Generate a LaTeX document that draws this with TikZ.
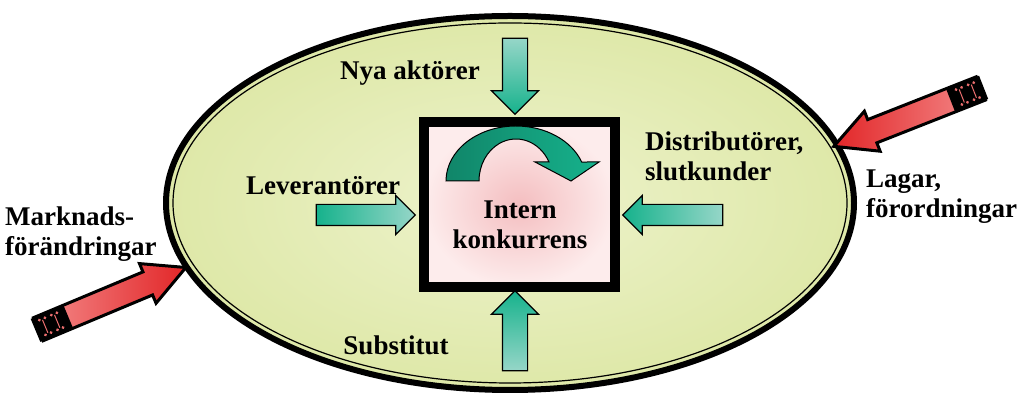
\documentclass[tikz,border=0pt]{standalone}
\usepackage{fontspec}
\setmainfont{Liberation Serif}
\usepackage{tikz}
\usepackage{xcolor}
\usetikzlibrary{shapes.geometric, shapes.arrows}
\definecolor{fieldin}{RGB}{238,243,205}
\definecolor{fieldout}{RGB}{222,232,168}
\definecolor{corein}{RGB}{244,190,192}
\definecolor{coreout}{RGB}{253,236,236}
\definecolor{tealdark}{RGB}{22,178,140}
\definecolor{teallight}{RGB}{150,214,200}
\definecolor{reddark}{RGB}{226,38,40}
\definecolor{redlight}{RGB}{244,140,140}
\definecolor{redmark}{RGB}{235,110,110}
\tikzstyle{field} = [ellipse, minimum width=688pt, minimum height=374pt, draw=black, line width=6pt, inner color=fieldin, outer color=fieldout]
\tikzstyle{core} = [rectangle, minimum width=191pt, minimum height=165pt, draw=black, line width=10pt, inner color=corein, outer color=coreout]
\tikzstyle{force} = [single arrow, draw=black, line width=1.2pt, inner xsep=0pt, inner ysep=10pt, single arrow head extend=9pt, single arrow tip angle=90]
\tikzstyle{outside} = [single arrow, draw=black, line width=3pt, inner xsep=0pt, inner ysep=11pt, single arrow head extend=9pt, single arrow tip angle=55]
\tikzstyle{txt} = [font=\fontsize{27}{30}\selectfont\bfseries, align=left, inner sep=0pt]

\begin{document}
\begin{tikzpicture}[x=1pt, y=1pt]
\useasboundingbox (0,0) rectangle (1028,398);
\node (market) [field] at (510,195) {};
\draw [line width=1.2pt] (market.center) ellipse [x radius=337, y radius=180];
\node (rivalry) [core] at (519.5,193.5) {};
% curved arrow inside the box
\shade [left color=tealdark!75!black, right color=tealdark, draw=black, line width=1pt]
  (446,217) arc [start angle=180, end angle=20.2, x radius=70, y radius=55]
  -- (599,236) -- (571,217) -- (535,236) -- (549,236)
  arc [start angle=26.9, end angle=180, x radius=37, y radius=42] -- cycle;
\node (intern) [txt, align=center] at (520,173) {Intern\\konkurrens};
% the four forces
\node (entrants) [force, inner ysep=12pt, single arrow head extend=11pt, minimum height=76pt, rotate=-90, top color=teallight, bottom color=tealdark] at (515,328) {};
\node (substitutes) [force, inner ysep=12pt, single arrow head extend=11pt, minimum height=80pt, rotate=90, top color=tealdark, bottom color=teallight] at (515,61) {};
\node (suppliers) [force, minimum height=99pt, left color=tealdark, right color=teallight] at (360.5,183) {};
\node (buyers) [force, minimum height=100pt, rotate=180, left color=tealdark, right color=teallight] at (678,183) {};
% outside pressure
\node (trends) [outside, minimum height=160pt, rotate=22.7, left color=redlight, right color=reddark] at (101,95) {};
\node (laws) [outside, minimum height=158pt, rotate=201.5, left color=reddark, right color=redlight] at (918.5,285) {};
\foreach \arr/\ang in {trends/22.7, laws/201.5} {
  \begin{scope}[shift={(\arr.tail)}, rotate=\ang]
    \fill [black] (-1.5,-12.5) rectangle (34,12.5);
    \draw [redmark, line width=1pt] (9,-7) -- (9,7) (22,-7) -- (22,7);
    \fill [redmark] (6,-8) circle (1.6) (12,-8) circle (1.6) (6,8) circle (1.6) (12,8) circle (1.6)
      (19,-8) circle (1.6) (25,-8) circle (1.6) (19,8) circle (1.6) (25,8) circle (1.6);
  \end{scope}
}
% labels
\node (newcomers) [txt] at (410,325) {Nya aktörer};
\node (supplierstxt) [txt] at (323,212) {Leverantörer};
\node (buyerstxt) [txt, anchor=west] at (645,242) {Distributörer,\\slutkunder};
\node (substtxt) [txt] at (396,53) {Substitut};
\node (trendstxt) [txt, anchor=west] at (5,164) {Marknads-\\förändringar};
\node (lawstxt) [txt, anchor=west] at (866,201) {Lagar,\\förordningar};
\end{tikzpicture}
\end{document}
